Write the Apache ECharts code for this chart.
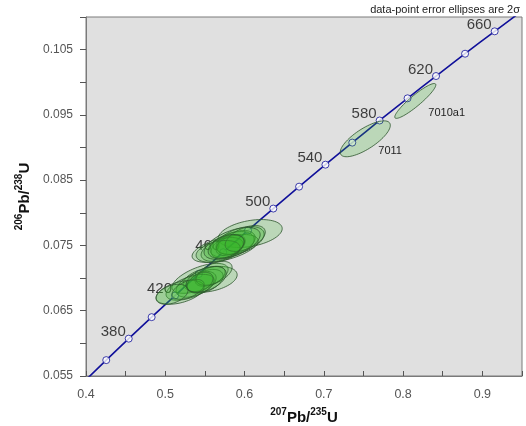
<!DOCTYPE html>
<html>
<head>
<meta charset="utf-8">
<script src="https://cdn.jsdelivr.net/npm/echarts@6/dist/echarts.min.js"></script>
<style>html,body{margin:0;padding:0;background:#fff;}#c{width:526px;height:426px;}</style>
</head>
<body>
<div id="c"></div>
<script>
// Concordia reference points (age in Ma, 207Pb/235U, 206Pb/238U)
const concAges = [340, 360, 380, 400, 420, 440, 460, 480, 500, 520, 540, 560, 580, 600, 620, 640, 660, 680, 700];
const concX = [0.39773, 0.42553, 0.45389, 0.48281, 0.51231, 0.54239, 0.57307, 0.60436, 0.63628, 0.66883, 0.70203, 0.73588, 0.77041, 0.80563, 0.84155, 0.87818, 0.91554, 0.95365, 0.99251];
const concY = [0.054158, 0.057434, 0.060719, 0.064016, 0.067322, 0.070638, 0.073965, 0.077302, 0.080650, 0.084008, 0.087376, 0.090755, 0.094144, 0.097544, 0.100955, 0.104376, 0.107807, 0.111249, 0.114702];
const labelledAges = [380, 420, 460, 500, 540, 580, 620, 660];

// Error ellipses: centre (x, y), half-extents (sx, sy) and correlation rho
const ellX   = [0.6071, 0.5755, 0.5843, 0.5793, 0.5894, 0.5717, 0.5944, 0.5818, 0.5667, 0.6008, 0.5843, 0.5768,
                0.5566, 0.5439, 0.5503, 0.5389, 0.5566, 0.5313, 0.5187, 0.5616, 0.5288, 0.5086, 0.5439, 0.5515,
                0.7523, 0.8154];
const ellY   = [0.07683, 0.07454, 0.07515, 0.07485, 0.07546, 0.07439, 0.07576, 0.07500, 0.07408, 0.07607, 0.07531, 0.07485,
                0.06981, 0.06996, 0.06950, 0.06905, 0.07027, 0.06859, 0.06782, 0.07073, 0.06828, 0.06752, 0.06935, 0.06981,
                0.09134, 0.09714];
const ellSX  = [0.0404, 0.0417, 0.0278, 0.0215, 0.0240, 0.0265, 0.0303, 0.0177, 0.0278, 0.0253, 0.0354, 0.0227,
                0.0341, 0.0354, 0.0227, 0.0253, 0.0189, 0.0303, 0.0303, 0.0227, 0.0202, 0.0202, 0.0164, 0.0253,
                0.0316, 0.0259];
const ellSY  = [0.00214, 0.00214, 0.00198, 0.00183, 0.00183, 0.00183, 0.00214, 0.00153, 0.00168, 0.00198, 0.00244, 0.00183,
                0.00198, 0.00229, 0.00183, 0.00198, 0.00153, 0.00198, 0.00183, 0.00183, 0.00153, 0.00153, 0.00153, 0.00198,
                0.00275, 0.00267];
const ellRho = [0.35, 0.55, 0.4, 0.45, 0.4, 0.45, 0.45, 0.4, 0.35, 0.5, 0.55, 0.4,
                0.35, 0.6, 0.45, 0.5, 0.45, 0.55, 0.45, 0.5, 0.5, 0.4, 0.4, 0.45,
                0.75, 0.92];
const ellNames = ['', '', '', '', '', '', '', '', '', '', '', '',
                  '', '', '', '', '', '', '', '', '', '', '', '',
                  '7011', '7010a1'];

const xTickLabels = [0.4, 0.5, 0.6, 0.7, 0.8, 0.9];
const yTickLabels = [0.055, 0.065, 0.075, 0.085, 0.095, 0.105];

const chart = echarts.init(document.getElementById('c'), null, {renderer: 'canvas'});

const lineData = concX.map((x, i) => [x, concY[i]]);
const markerData = concAges.map((a, i) => ({
  value: [concX[i], concY[i]],
  age: a,
  label: {show: labelledAges.indexOf(a) >= 0}
}));
const ellData = ellX.map((x, i) => [x, ellY[i], ellSX[i], ellSY[i], ellRho[i]]);

function near(v, list, eps) { return list.some(t => Math.abs(t - v) < eps); }

const richTitle = {
  sup: {fontSize: 10, fontWeight: 'bold', fontFamily: 'Liberation Sans, Arial', color: '#111', verticalAlign: 'top', lineHeight: 18},
  m: {fontSize: 15, fontWeight: 'bold', fontFamily: 'Liberation Sans, Arial', color: '#111', verticalAlign: 'bottom', lineHeight: 18}
};

const option = {
  animation: false,
  backgroundColor: '#ffffff',
  grid: {left: 86, right: 4, top: 17, bottom: 50, containLabel: false, outerBoundsMode: 'none',
         show: true, backgroundColor: '#e0e0e0', borderColor: '#7a7a7a', borderWidth: 1},
  xAxis: {
    type: 'value', min: 0.4, max: 0.95, interval: 0.05,
    axisLine: {show: true, lineStyle: {color: '#7a7a7a'}},
    axisTick: {show: true, inside: true, length: 5, lineStyle: {color: '#555'}},
    splitLine: {show: false},
    axisLabel: {
      color: '#555', fontSize: 12.5, fontFamily: 'Liberation Sans, Arial', margin: 12,
      formatter: v => near(v, xTickLabels, 1e-6) ? String(Math.round(v * 10) / 10) : ''
    },
    name: '{sup|207}{m|Pb/}{sup|235}{m|U}',
    nameLocation: 'middle', nameGap: 31,
    nameTextStyle: {fontFamily: 'Liberation Sans, Arial', fontWeight: 'bold', color: '#111', rich: richTitle}
  },
  yAxis: {
    type: 'value', min: 0.055, max: 0.11, interval: 0.005,
    axisLine: {show: true, lineStyle: {color: '#7a7a7a'}},
    axisTick: {show: true, inside: false, length: 6, lineStyle: {color: '#555'}},
    splitLine: {show: false},
    axisLabel: {
      color: '#555', fontSize: 12, fontFamily: 'Liberation Sans, Arial', margin: 13,
      formatter: v => near(v, yTickLabels, 1e-7) ? (Math.round(v * 1000) / 1000).toFixed(3) : ''
    },
    name: '{sup|206}{m|Pb/}{sup|238}{m|U}',
    nameLocation: 'middle', nameGap: 43, nameRotate: 90,
    nameTextStyle: {fontFamily: 'Liberation Sans, Arial', fontWeight: 'bold', color: '#111', rich: richTitle}
  },
  graphic: [{
    type: 'text', right: 6, top: 4, z: 100,
    style: {text: 'data-point error ellipses are 2σ', font: '11px "Liberation Sans", Arial', fill: '#222'}
  }],
  series: [
    {
      type: 'line', data: lineData, smooth: true, showSymbol: false, z: 2,
      lineStyle: {color: '#10109a', width: 1.6}, clip: true, silent: true
    },
    {
      type: 'scatter', data: markerData, z: 3, symbol: 'circle', symbolSize: 7,
      itemStyle: {color: '#ffffff', borderColor: '#10109a', borderWidth: 1},
      label: {
        show: false, position: [1, 5], align: 'right', verticalAlign: 'bottom',
        fontSize: 15, fontFamily: 'Liberation Sans, Arial', color: '#111',
        formatter: p => String(p.data.age)
      },
      clip: true
    },
    {
      type: 'custom', z: 5, data: ellData, clip: true,
      renderItem: function (params, api) {
        const cx = api.value(0), cy = api.value(1), sx = api.value(2), sy = api.value(3), r = api.value(4);
        const q = Math.sqrt(1 - r * r);
        const pts = [];
        const N = 72;
        for (let k = 0; k < N; k++) {
          const t = 2 * Math.PI * k / N;
          pts.push(api.coord([cx + sx * Math.cos(t), cy + sy * (r * Math.cos(t) + q * Math.sin(t))]));
        }
        const children = [{
          type: 'polygon', shape: {points: pts},
          style: {fill: 'rgba(55,180,40,0.22)', stroke: 'rgba(45,85,45,0.8)', lineWidth: 1}
        }];
        const nm = ellNames[params.dataIndex];
        if (nm) {
          const c = api.coord([cx, cy]);
          children.push({
            type: 'text', x: c[0] + 13, y: c[1] + 12,
            style: {text: nm, font: '11px "Liberation Sans", Arial', fill: '#222', align: 'left', verticalAlign: 'middle'}
          });
        }
        return {type: 'group', children: children};
      }
    }
  ]
};
chart.setOption(option);
</script>
</body>
</html>
